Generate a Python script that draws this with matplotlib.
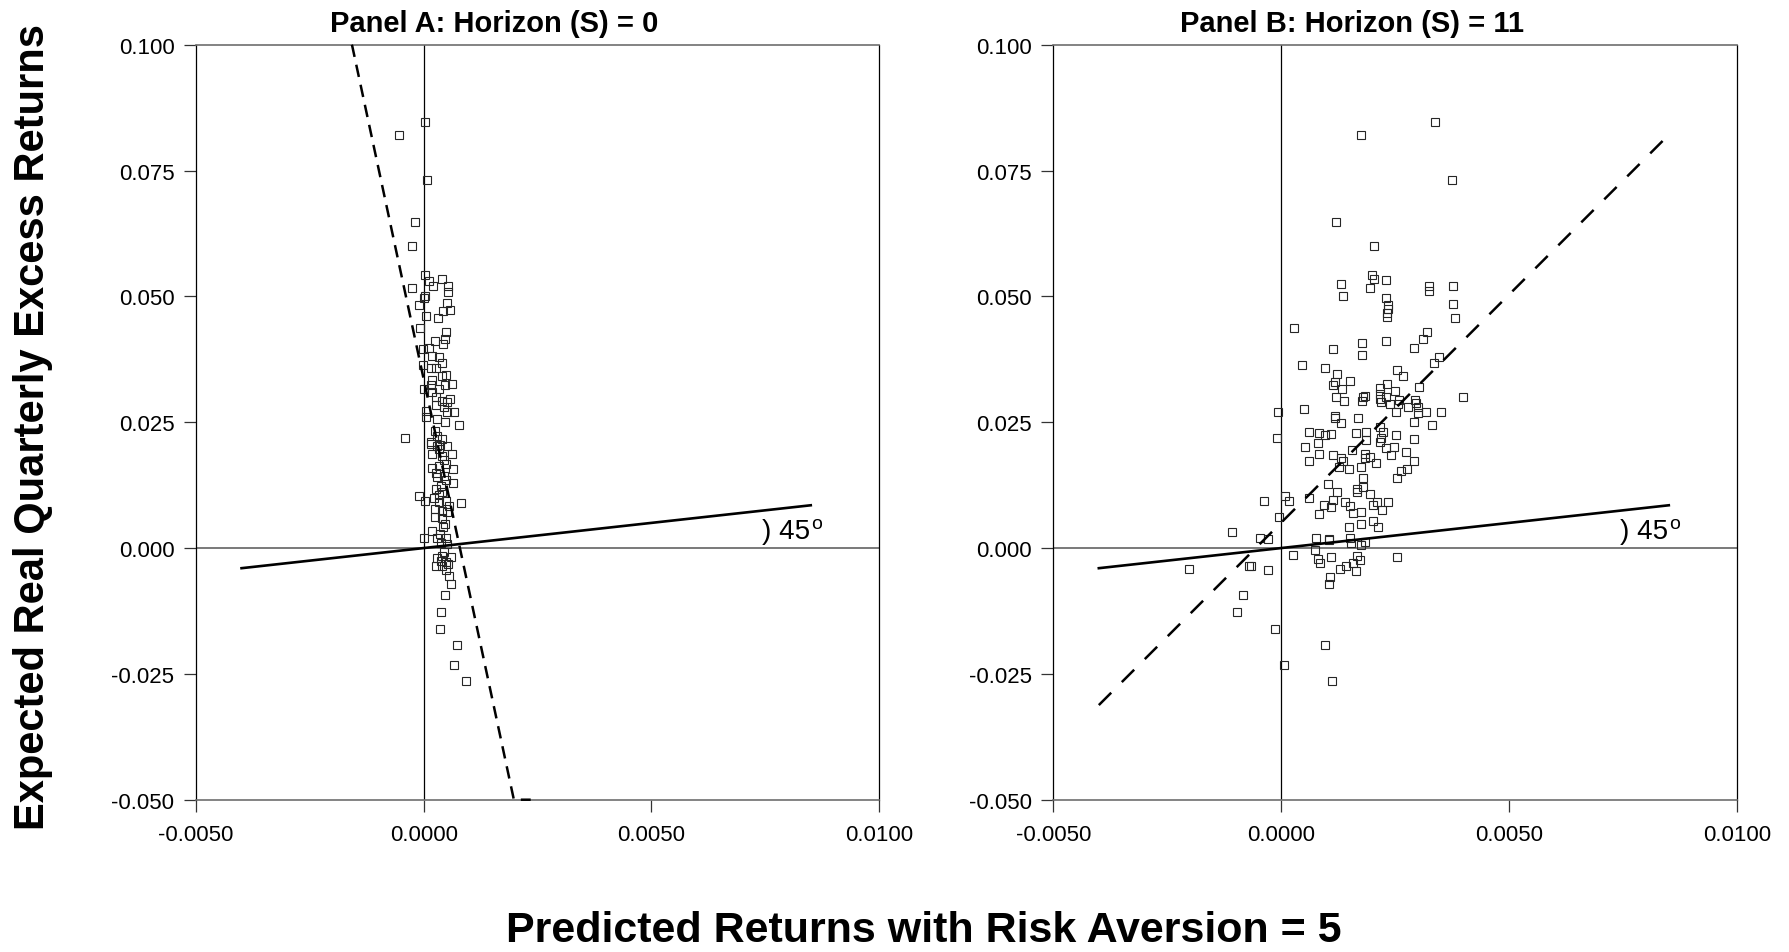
import numpy as np
import matplotlib
matplotlib.use("Agg")
import matplotlib.pyplot as plt
from matplotlib.ticker import FormatStrFormatter

plt.rcParams['font.family'] = ['Liberation Sans', 'DejaVu Sans']

# Panel A (S = 0): predicted vs expected returns
xa = [0.00003, -0.00055, 0.00007, -0.00019, -0.00025, 0.00003, 0.00011, 0.00040,
      0.00021, 0.00054, 0.00054, -0.00025, 0.00003, 0.00001, -0.00011, 0.00051,
      0.00057, 0.00043, 0.00006, 0.00032, -0.00008, 0.00048, 0.00047, 0.00024,
      0.00043, 0.00011, -0.00001, 0.00018, 0.00034, 0.00041, -0.00002, 0.00016,
      0.00027, 0.00050, 0.00041, 0.00063, 0.00047, 0.00019, 0.00016, 0.00001,
      0.00019, 0.00034, 0.00027, 0.00041, 0.00058, 0.00052, 0.00027, 0.00045,
      0.00005, 0.00067, 0.00052, 0.00006, 0.00030, 0.00047, 0.00078, -0.00040,
      0.00025, 0.00030, 0.00016, 0.00041, 0.00052, 0.00034, 0.00063,
      0.00016, 0.00030, 0.00018, 0.00041, 0.00019, 0.00034, 0.00049, 0.00065,
      0.00030, 0.00045, 0.00065, 0.00038, -0.00011, 0.00003, 0.00027, 0.00041,
      0.00023, 0.00034, 0.00049, 0.00056, 0.00082, 0.00025, 0.00041, 0.00052,
      0.00024, 0.00047, 0.00043, 0.00019, 0.00000, 0.00030, 0.00049, 0.00052,
      0.00038, 0.00041, 0.00060, 0.00038, 0.00027, 0.00041, 0.00054, 0.00050,
      0.00056, 0.00060, 0.00047, 0.00037, 0.00035, 0.00074, 0.00067, 0.00093,
      0.00035, 0.00045, 0.00028, 0.00050, 0.00033, 0.00040, 0.00035, 0.00045,
      0.00030, 0.00048]
ya = [0.0846, 0.0821, 0.0732, 0.0647, 0.0600, 0.0543, 0.0531, 0.0535,
      0.0521, 0.0520, 0.0508, 0.0516, 0.0500, 0.0496, 0.0482, 0.0486,
      0.0473, 0.0471, 0.0461, 0.0457, 0.0437, 0.0430, 0.0415, 0.0411,
      0.0406, 0.0397, 0.0396, 0.0382, 0.0379, 0.0367, 0.0364, 0.0357,
      0.0357, 0.0344, 0.0341, 0.0326, 0.0323, 0.0333, 0.0323, 0.0316,
      0.0310, 0.0316, 0.0300, 0.0293, 0.0296, 0.0290, 0.0284, 0.0280,
      0.0273, 0.0270, 0.0270, 0.0260, 0.0256, 0.0250, 0.0245, 0.0218,
      0.0233, 0.0223, 0.0210, 0.0217, 0.0203, 0.0197, 0.0187,
      0.0207, 0.0203, 0.0187, 0.0183, 0.0160, 0.0164, 0.0167, 0.0157,
      0.0141, 0.0144, 0.0129, 0.0124, 0.0104, 0.0094, 0.0117, 0.0111,
      0.0099, 0.0091, 0.0094, 0.0084, 0.0089, 0.0078, 0.0074, 0.0072,
      0.0061, 0.0048, 0.0041, 0.0034, 0.0020, 0.0019, 0.0019, 0.0008,
      0.0011, -0.0015, -0.0018, -0.0025, -0.0035, -0.0036, -0.0032, -0.0044,
      -0.0055, -0.0072, -0.0093, -0.0127, -0.0161, -0.0193, -0.0233, -0.0265,
      0.0205, 0.0175, 0.0150, 0.0135, 0.0105, 0.0060, 0.0028, -0.0008,
      -0.0020, -0.0028]

# Panel B (S = 11)
xb = [0.00338, 0.00175, 0.00374, 0.00121, 0.00204, 0.00200, 0.00204, 0.00230,
      0.00132, 0.00325, 0.00325, 0.00376, 0.00194, 0.00136, 0.00229, 0.00235,
      0.00234, 0.00233, 0.00233, 0.00376, 0.00382, 0.00029, 0.00320, 0.00310,
      0.00292, 0.00230, 0.00177, 0.00113, 0.00178, 0.00045, 0.00095, 0.00346,
      0.00336, 0.00254, 0.00266, 0.00123, 0.00151, 0.00113, 0.00117, 0.00303,
      0.00231, 0.00216, 0.00133, 0.00250, 0.00398, 0.00183, 0.00216, 0.00120,
      0.00180, 0.00229, 0.00258, 0.00293,
      -0.00006, 0.00051, 0.00118, 0.00117, 0.00132, 0.00169, 0.00178, 0.00137,
      0.00216, 0.00219, 0.00239, 0.00251, 0.00257, 0.00277, 0.00296, 0.00300,
      0.00300, 0.00318, 0.00350, 0.00292, 0.00331, -0.00009, 0.00062, 0.00083,
      0.00096, 0.00109, 0.00080, 0.00053, 0.00082, 0.00060, 0.00113, 0.00132,
      0.00156, 0.00165, 0.00186, 0.00185, 0.00217, 0.00223, 0.00219, 0.00216,
      0.00230, 0.00251, 0.00248, 0.00240, 0.00273, 0.00291, 0.00292, 0.00276,
      0.00263, 0.00253, 0.00208, 0.00195, 0.00184, 0.00183, 0.00176, 0.00148,
      0.00126, 0.00135, 0.00179, 0.00167, 0.00180, 0.00167, 0.00195, 0.00102,
      0.00122, 0.00113, 0.00093, 0.00110, 0.00082, 0.00060, 0.00140, 0.00151,
      0.00157, 0.00175, 0.00201, 0.00210, 0.00221, 0.00235, 0.00202, 0.00213,
      0.00174, 0.00148, -0.00037, 0.00009, 0.00016, -0.00004, -0.00107, -0.00046,
      -0.00030, 0.00076, 0.00105, 0.00105, 0.00151, 0.00152, 0.00183, 0.00175,
      0.00075, 0.00026, 0.00080, 0.00084, 0.00109, 0.00167, 0.00172, 0.00157,
      0.00143, 0.00130, 0.00164, 0.00254, 0.00107, 0.00104, -0.00202, -0.00070,
      -0.00066, -0.00030, -0.00084, -0.00097, -0.00013, 0.00095, 0.00005, 0.00111]
yb = [0.0846, 0.0821, 0.0732, 0.0647, 0.0600, 0.0543, 0.0535, 0.0532,
      0.0524, 0.0520, 0.0510, 0.0521, 0.0516, 0.0500, 0.0496, 0.0483,
      0.0474, 0.0467, 0.0459, 0.0485, 0.0457, 0.0437, 0.0429, 0.0415,
      0.0398, 0.0411, 0.0407, 0.0395, 0.0383, 0.0364, 0.0357, 0.0379,
      0.0368, 0.0354, 0.0341, 0.0345, 0.0331, 0.0323, 0.0329, 0.0320,
      0.0325, 0.0318, 0.0316, 0.0312, 0.0301, 0.0303, 0.0306, 0.0300,
      0.0301, 0.0300, 0.0294, 0.0294,
      0.0271, 0.0276, 0.0262, 0.0258, 0.0249, 0.0258, 0.0292, 0.0292,
      0.0296, 0.0290, 0.0286, 0.0271, 0.0286, 0.0280, 0.0288, 0.0280,
      0.0268, 0.0270, 0.0270, 0.0250, 0.0245, 0.0218, 0.0230, 0.0229,
      0.0225, 0.0227, 0.0209, 0.0201, 0.0186, 0.0173, 0.0185, 0.0178,
      0.0195, 0.0228, 0.0231, 0.0215, 0.0240, 0.0230, 0.0219, 0.0210,
      0.0198, 0.0225, 0.0200, 0.0185, 0.0190, 0.0217, 0.0173, 0.0158,
      0.0153, 0.0139, 0.0168, 0.0180, 0.0187, 0.0178, 0.0162, 0.0157,
      0.0162, 0.0172, 0.0139, 0.0117, 0.0121, 0.0111, 0.0107, 0.0127,
      0.0111, 0.0096, 0.0086, 0.0081, 0.0068, 0.0099, 0.0092, 0.0084,
      0.0070, 0.0072, 0.0085, 0.0092, 0.0076, 0.0091, 0.0054, 0.0041,
      0.0048, 0.0042, 0.0094, 0.0104, 0.0094, 0.0061, 0.0032, 0.0020,
      0.0018, 0.0019, 0.0018, 0.0016, 0.0019, 0.0010, 0.0013, 0.0006,
      -0.0003, -0.0013, -0.0022, -0.0030, -0.0017, -0.0015, -0.0023, -0.0030,
      -0.0036, -0.0042, -0.0046, -0.0018, -0.0058, -0.0072, -0.0041, -0.0036,
      -0.0035, -0.0043, -0.0093, -0.0127, -0.0161, -0.0193, -0.0232, -0.0265]

# fitted lines (intercept, slope) and the x span they are drawn over
fit_a = (0.03355, -42.19)
fit_a_span = (-0.00158, 0.00235)
fit_b = (0.00506, 9.065)
fit_b_span = (-0.0040, 0.0085)
diag_span = (-0.0040, 0.0085)

xticks = [-0.005, 0.0, 0.005, 0.010]
yticks = [-0.050, -0.025, 0.0, 0.025, 0.050, 0.075, 0.100]


def draw_panel(ax, xs, ys, fit, span, dash, title):
    ax.set_xlim(-0.005, 0.010)
    ax.set_ylim(-0.05, 0.10)
    ax.set_xticks(xticks)
    ax.set_yticks(yticks)
    ax.xaxis.set_major_formatter(FormatStrFormatter('%.4f'))
    ax.yaxis.set_major_formatter(FormatStrFormatter('%.3f'))
    ax.tick_params(axis='both', direction='out', length=8.5, width=0.9,
                   labelsize=16, color='#333333')
    ax.tick_params(axis='x', pad=9)
    ax.tick_params(axis='y', pad=7)
    for side in ['left', 'right']:
        ax.spines[side].set_color('black')
        ax.spines[side].set_linewidth(0.9)
    for side in ['top', 'bottom']:
        ax.spines[side].set_color('#6e6e6e')
        ax.spines[side].set_linewidth(1.2)

    ax.axhline(0, color='#6e6e6e', lw=1.3, zorder=1)
    ax.axvline(0, color='black', lw=0.9, zorder=1)

    ax.plot(xs, ys, 's', mfc='none', mec='#262626', ms=6, mew=0.8, zorder=3)

    d = np.array(diag_span)
    ax.plot(d, d, color='black', lw=1.9, zorder=4)

    fx = np.linspace(span[0], span[1], 400)
    fy = np.clip(fit[0] + fit[1] * fx, -0.05, 0.10)
    ax.plot(fx, fy, color='black', lw=1.8, linestyle=dash, zorder=4, clip_on=False)

    # angle marker: ") 45" with a small raised "o"
    t = ax.text(0.00742, 0.0020, ') 45', fontsize=20, va='baseline')
    ax.annotate('o', xy=(1, 1), xycoords=t, xytext=(1, 2),
                textcoords='offset points', ha='left', va='top', fontsize=14)
    ax.text(0.437, 1.0185, title, transform=ax.transAxes, ha='center',
            va='baseline', fontsize=21, fontweight='bold')


fig = plt.figure(figsize=(17.9, 9.53), dpi=100)
ax1 = fig.add_axes([0.1095, 0.1598, 0.3816, 0.7922])
ax2 = fig.add_axes([0.5884, 0.1598, 0.3821, 0.7922])

draw_panel(ax1, xa, ya, fit_a, fit_a_span, (0, (5, 3.2)), 'Panel A: Horizon (S) = 0')
draw_panel(ax2, xb, yb, fit_b, fit_b_span, (0, (7, 6)), 'Panel B: Horizon (S) = 11')

fig.text(0.0184, 0.552, 'Expected Real Quarterly Excess Returns', rotation=90,
         ha='center', va='center', fontsize=30, fontweight='bold')
fig.text(0.5163, 0.012, 'Predicted Returns with Risk Aversion = 5', ha='center',
         va='baseline', fontsize=31, fontweight='bold')

fig.savefig('out.png', dpi=100)
